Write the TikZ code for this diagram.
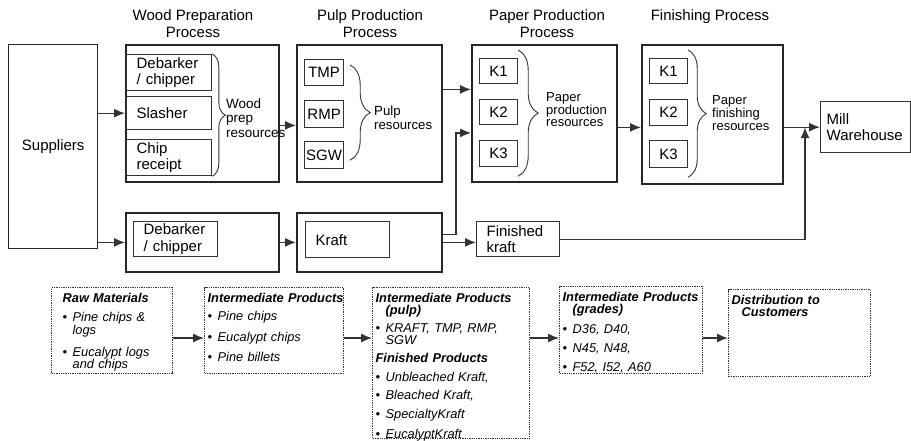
\documentclass[tikz,border=0pt]{standalone}
\usepackage{fontspec}
\setmainfont{Liberation Sans}
\usetikzlibrary{arrows.meta,decorations.pathreplacing}
\newcommand{\bul}{\makebox[10pt][l]{\textbullet}}
\newcommand{\hang}{\hspace*{10pt}}
\begin{document}
\begin{tikzpicture}[x=1pt,y=-1pt,font=\fontsize{15}{16.5}\selectfont]
    \tikzstyle{bigbox}=[draw=black!85,line width=1.8pt,anchor=north west,inner sep=0pt]
    \tikzstyle{inbox}=[draw=black!80,line width=1.3pt,anchor=north west,align=left,inner xsep=10pt,inner ysep=1pt]
    \tikzstyle{kbox}=[draw=black!80,line width=1.2pt,anchor=north west,inner sep=1pt,minimum width=38pt,minimum height=26pt]
    \tikzstyle{dotbox}=[draw=black!80,densely dotted,line width=1.3pt,anchor=north west,align=left,inner xsep=3pt,inner ysep=3pt,text height=12pt,font=\fontsize{12.8}{11.5}\selectfont\itshape]
    \tikzstyle{flow}=[-{Latex[length=11pt,width=9pt]},draw=black!80,line width=1.3pt]
    \tikzstyle{braces}=[decorate,decoration={brace,amplitude=20pt},draw=black!80,line width=0.9pt]
    \tikzstyle{res}=[anchor=west,align=left,inner sep=0pt,font=\fontsize{13}{12.5}\selectfont]
    \useasboundingbox (0,0) rectangle (911,440);

    % process titles
    \node[align=center] (wtitle) at (193,23.5) {Wood Preparation\\Process};
    \node[align=center] (ptitle) at (370,23.5) {Pulp Production\\Process};
    \node[align=center] (ktitle) at (547,23.5) {Paper Production\\Process};
    \node (ftitle) at (710,16.5) {Finishing Process};

    % main row
    \node[draw=black!85,line width=1.4pt,anchor=north west,minimum width=89pt,minimum height=204pt] (sup) at (8,44) {Suppliers};
    \node[bigbox,minimum width=153pt,minimum height=137pt] (wood) at (125,44) {};
    \node[bigbox,minimum width=145pt,minimum height=137pt] (pulp) at (296,44) {};
    \node[bigbox,minimum width=145pt,minimum height=137pt] (paper) at (471,44) {};
    \node[bigbox,minimum width=141pt,minimum height=139pt] (fin) at (641,44) {};
    \node[inbox,text width=78pt,inner xsep=6pt,minimum height=51pt] (mill) at (820,101) {Mill\\Warehouse};

    \node[inbox,text width=65pt,minimum height=36pt] (deb1) at (126,54) {Debarker\\/ chipper};
    \node[inbox,text width=65pt,minimum height=33pt] (sla) at (126,96) {Slasher};
    \node[inbox,text width=65pt,minimum height=36pt] (chip) at (126,139) {Chip\\receipt};
    \node[res,font=\fontsize{13.5}{14.5}\selectfont] (wlab) at (226,118) {Wood\\prep\\resources};

    \node[kbox,minimum width=39pt] (tmp) at (304,59) {TMP};
    \node[kbox,minimum width=39pt,minimum height=27pt] (rmp) at (304,100) {RMP};
    \node[kbox,minimum width=39pt,minimum height=27pt] (sgw) at (304,141) {SGW};
    \node[res,font=\fontsize{13.2}{14}\selectfont] (plab) at (374,118) {Pulp\\resources};

    \node[kbox,minimum height=25pt] (pk1) at (479,58) {K1};
    \node[kbox,minimum height=25pt] (pk2) at (479,99) {K2};
    \node[kbox] (pk3) at (479,140) {K3};
    \node[res,font=\fontsize{13}{12}\selectfont] (klab) at (546,110) {Paper\\production\\resources};

    \node[kbox,minimum height=25pt] (fk1) at (649,58) {K1};
    \node[kbox] (fk2) at (649,99) {K2};
    \node[kbox,minimum height=27pt] (fk3) at (649,140) {K3};
    \node[res,font=\fontsize{13}{13}\selectfont] (flab) at (712,113) {Paper\\finishing\\resources};

    \draw[braces,decoration={amplitude=13pt}] (deb1.north east) -- (chip.south east);
    \draw[braces] ([xshift=6pt,yshift=-6pt]tmp.north east) -- ([xshift=6pt,yshift=9pt]sgw.south east);
    \draw[braces] ([yshift=8pt]pk1.north east) -- ([yshift=-9pt]pk3.south east);
    \draw[braces,decoration={amplitude=18pt}] ([yshift=8pt]fk1.north east) -- ([yshift=-9pt]fk3.south east);

    % kraft row
    \node[bigbox,minimum width=153pt,minimum height=59pt] (wood2) at (125,212) {};
    \node[bigbox,minimum width=145pt,minimum height=59pt] (pulp2) at (296,212) {};
    \node[inbox,text width=64pt,minimum height=35pt] (deb2) at (133,221) {Debarker\\/ chipper};
    \node[inbox,text width=64pt,minimum height=36pt] (kraft) at (305,221) {Kraft};
    \node[inbox,text width=63pt,minimum height=35pt] (fkraft) at (476,221) {Finished\\kraft};

    \draw[flow] (sup.east |- sla) -- (wood.west |- sla);
    \draw[flow] (sup.east |- wood2) -- (wood2);
    \draw[flow] ([yshift=-12pt]wood.east) -- ([yshift=-12pt]pulp.west);
    \draw[flow] (wood2) -- (pulp2);
    \draw[flow] ([yshift=24pt]pulp.east) -- ([yshift=24pt]paper.west);
    \draw[flow] ([yshift=8pt]pulp2.east) -| ([xshift=-15pt,yshift=-19.5pt]paper.west) -- ([yshift=-19.5pt]paper.west);
    \draw[flow] (pulp2) -- (fkraft.west |- pulp2);
    \draw[flow] ([yshift=-14pt]paper.east) -- ([yshift=-13pt]fin.west);
    \draw[flow] (fin.east |- mill) -- (mill);
    \draw[flow] (fkraft.east) -| ([xshift=-15pt]mill.west);

    % product row
    \coordinate (row) at (0,338);
    \node[dotbox,inner xsep=11pt,text width=99pt,text depth=68pt] (raw) at (51,287)
        {\textbf{\mbox{Raw Materials}}\\[7.5pt] \bul Pine chips \&\\ \hang logs\\[8.5pt] \bul Eucalypt logs\\ \hang and chips};
    \node[dotbox,text width=133pt,text depth=68pt] (inter1) at (204,287)
        {\textbf{\mbox{Intermediate Products}}\\[6.5pt] \bul Pine chips\\[7.5pt] \bul Eucalypt chips\\[7.5pt] \bul Pine billets};
    \node[dotbox,text width=151pt,text depth=133pt] (inter2) at (372,287)
        {\textbf{\mbox{Intermediate Products}}\\ \hang\textbf{(pulp)}\\[7pt] \bul KRAFT, TMP, RMP,\\ \hang SGW\\[7pt]
         \textbf{\mbox{Finished Products}}\\[7pt] \bul Unbleached Kraft,\\[7pt] \bul Bleached Kraft,\\[7pt] \bul SpecialtyKraft\\[7pt] \bul EucalyptKraft};
    \node[dotbox,text width=137pt,text depth=69pt] (inter3) at (559,286)
        {\textbf{\mbox{Intermediate Products}}\\ \hang\textbf{(grades)}\\[7.5pt] \bul D36, D40,\\[7.5pt] \bul N45, N48,\\[7.5pt] \bul F52, I52, A60};
    \node[dotbox,text width=136pt,text depth=69pt] (dist) at (728,289)
        {\textbf{\mbox{Distribution to}}\\ \hang\textbf{Customers}};

    \draw[flow] (raw.east |- row) -- (inter1.west |- row);
    \draw[flow] (inter1.east |- row) -- (inter2.west |- row);
    \draw[flow] (inter2.east |- row) -- (inter3.west |- row);
    \draw[flow] (inter3.east |- row) -- (dist.west |- row);
\end{tikzpicture}
\end{document}
